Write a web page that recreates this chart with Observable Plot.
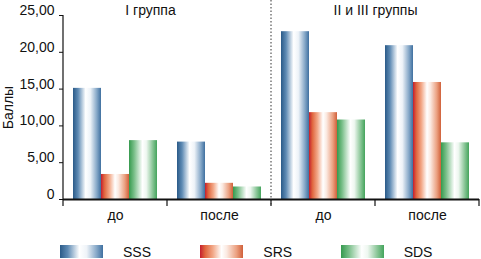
<!DOCTYPE html>
<html><head><meta charset="utf-8">
<script src="https://cdn.jsdelivr.net/npm/d3@7"></script>
<script src="https://cdn.jsdelivr.net/npm/@observablehq/plot@0.6"></script>
<style>
html,body{margin:0;padding:0;background:#fff;}
body{width:481px;height:259px;overflow:hidden;font-family:"Liberation Sans",Arial,sans-serif;color:#111;}
#chart svg{display:block;}
#legend{position:relative;height:27px;display:flex;padding-left:60px;box-sizing:border-box;padding-top:13px;}
.item{width:156px;display:flex;align-items:center;height:13px;}
.sw{width:43px;height:13px;margin-right:20px;}
.lab{font-size:14px;line-height:14px;}
</style></head><body>
<div id="chart"></div>
<div id="legend"></div>
<script>
const groups = ["I","I","II","II"];
const periods = ["до","после","до","после"];
const series = ["SSS","SRS","SDS"];
const sssValues = [15.1, 7.8, 22.8, 20.9];
const srsValues = [3.4, 2.2, 11.8, 15.9];
const sdsValues = [8.0, 1.7, 10.8, 7.7];
const groupTitles = ["I группа","II и III группы"];
const yTicks = [0,5,10,15,20,25];
const yTickLabels = ["0","5,00","10,00","15,00","20,00","25,00"];
const yLabel = "Баллы";

const baseColors = {SSS:"#3a6a98", SRS:"#c83a30", SDS:"#45a058"};
const gradStops = {
  SSS:[[0,"#2a5a88"],[0.18,"#5f8bb4"],[0.45,"#ffffff"],[0.62,"#eef3f8"],[0.85,"#86a8c8"],[1,"#3f70a0"]],
  SRS:[[0,"#c41e2e"],[0.12,"#e0663e"],[0.3,"#f2a888"],[0.5,"#ffffff"],[0.62,"#fbeae2"],[0.85,"#eba080"],[1,"#d0603a"]],
  SDS:[[0,"#359a4e"],[0.18,"#78be88"],[0.48,"#ffffff"],[0.62,"#eef7f0"],[0.85,"#86c494"],[1,"#44a45c"]]
};

const keys = groups.map((g,i)=>g+"|"+periods[i]);
const valuesBySeries = {SSS:sssValues, SRS:srsValues, SDS:sdsValues};
const data = [];
keys.forEach((k,i)=>series.forEach(s=>data.push({cat:k, s, v:valuesBySeries[s][i]})));

const font = '"Liberation Sans", Arial, sans-serif';
const plot = Plot.plot({
  width:481, height:232,
  marginTop:15, marginBottom:33, marginLeft:62, marginRight:1,
  style:{fontFamily:font, fontSize:"14px", color:"#111", background:"white", overflow:"visible"},
  fx:{domain:keys, padding:0, label:null, axis:null},
  x:{domain:series, paddingInner:0, paddingOuter:0.32, axis:null},
  y:{domain:[0,25], axis:null},
  marks:[
    ...series.map(s=>Plot.barY(data.filter(d=>d.s===s), {fx:"cat", x:"s", y:"v", fill:baseColors[s]})),
    Plot.ruleY([0], {stroke:"#111", strokeWidth:1.8}),
    Plot.axisY({ticks:yTicks, tickSize:4, tickFormat:()=>"", label:null, facetAnchor:"left"}),
    Plot.axisY({ticks:yTicks, tickSize:0, tickPadding:9, dy:-5, tickFormat:d=>yTickLabels[yTicks.indexOf(d)], label:null, facetAnchor:"left", fontSize:14}),
    Plot.axisFx({anchor:"bottom", tickFormat:d=>d.split("|")[1], tickSize:0, tickPadding:11, label:null, fontSize:14}),
    Plot.text([{cat:keys[0], t:groupTitles[0]}], {fx:"cat", text:"t", frameAnchor:"top-right", textAnchor:"middle", dx:-17, dy:-5, lineAnchor:"middle", fontSize:14}),
    Plot.text([{cat:keys[2], t:groupTitles[1]}], {fx:"cat", text:"t", frameAnchor:"top-right", textAnchor:"middle", dy:-5, lineAnchor:"middle", fontSize:14}),
    Plot.text([{cat:keys[0], t:yLabel}], {fx:"cat", text:"t", frameAnchor:"left", rotate:-90, dx:-55, dy:0, textAnchor:"middle", fontSize:14})
  ]
});
document.getElementById("chart").appendChild(plot);

const svg = d3.select(plot);
const defs = svg.insert("defs", ":first-child");
series.forEach(s=>{
  const g = defs.append("linearGradient").attr("id","grad-"+s).attr("x1",0).attr("x2",1).attr("y1",0).attr("y2",0);
  gradStops[s].forEach(([o,c])=>g.append("stop").attr("offset",o).attr("stop-color",c));
  svg.selectAll(`g[fill="${baseColors[s]}"]`).attr("fill",`url(#grad-${s})`);
});

// axis line, boundary ticks and the dotted divider, placed from Plot's scales
const fx = plot.scale("fx"), y = plot.scale("y");
const bw = fx.bandwidth;
const bounds = keys.map(k=>fx.apply(k)).concat([fx.apply(keys[keys.length-1])+bw]);
const y0 = y.apply(0), yTop = y.apply(25);
const over = svg.append("g").attr("stroke","#111");
over.append("line").attr("x1",bounds[0]).attr("x2",bounds[0]).attr("y1",yTop).attr("y2",y0).attr("stroke-width",1.2);
bounds.forEach(b=>over.append("line").attr("x1",b).attr("x2",b).attr("y1",y0).attr("y2",y0+7).attr("stroke-width",1.2));
over.append("line").attr("x1",bounds[2]).attr("x2",bounds[2]).attr("y1",0).attr("y2",y0+6)
  .attr("stroke","#333").attr("stroke-width",1).attr("stroke-dasharray","1.5,2");

// legend
const leg = d3.select("#legend");
series.forEach(s=>{
  const it = leg.append("div").attr("class","item");
  it.append("div").attr("class","sw").style("background",
    `linear-gradient(to right, ${gradStops[s].map(([o,c])=>c+" "+(o*100)+"%").join(",")})`);
  it.append("div").attr("class","lab").text(s);
});
</script>
</body></html>
